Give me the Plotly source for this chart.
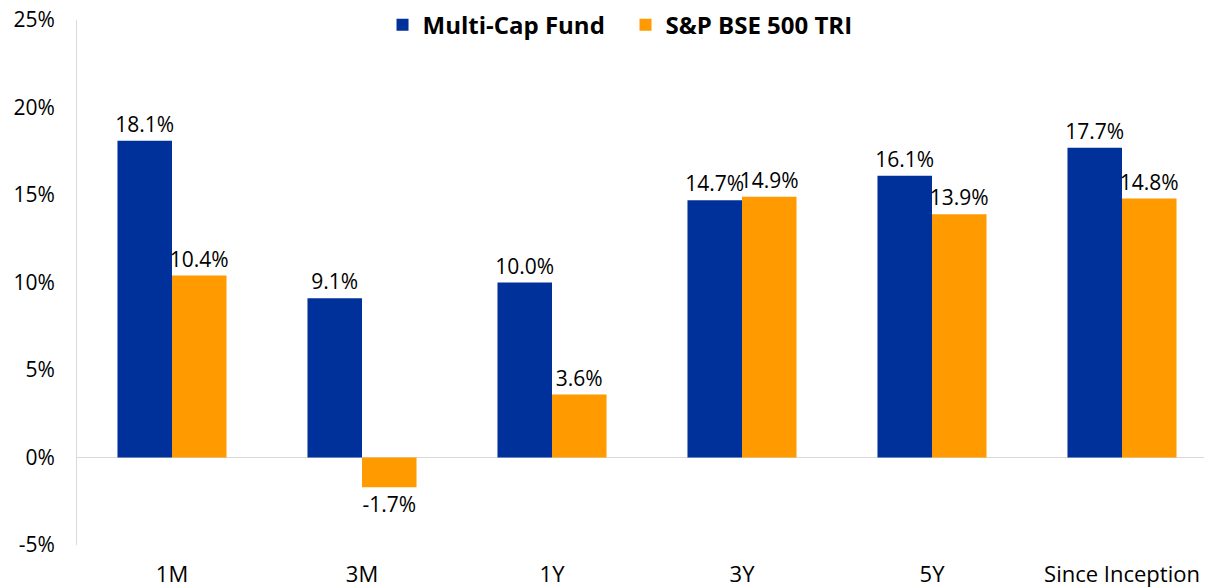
import plotly.graph_objects as go

categories = ["1M", "3M", "1Y", "3Y", "5Y", "Since Inception"]
fund = [18.1, 9.1, 10.0, 14.7, 16.1, 17.7]
index = [10.4, -1.7, 3.6, 14.9, 13.9, 14.8]
tick_vals = [-5, 0, 5, 10, 15, 20, 25]
tick_text = ["-5%", "0%", "5%", "10%", "15%", "20%", "25%"]

FONT = "Open Sans, Inter, sans-serif"

fig = go.Figure()
fig.add_trace(go.Bar(
    x=categories, y=fund, name="Multi-Cap Fund",
    marker=dict(color="#00309A", line=dict(width=0)),
    texttemplate="%{y:.1f}%", textposition="outside", constraintext="none",
    textfont=dict(size=21, color="#000000", family=FONT),
    cliponaxis=False,
))
fig.add_trace(go.Bar(
    x=categories, y=index, name="S&P BSE 500 TRI",
    marker=dict(color="#FF9A00", line=dict(width=0)),
    texttemplate="%{y:.1f}%", textposition="outside", constraintext="none",
    textfont=dict(size=21, color="#000000", family=FONT),
    cliponaxis=False,
))

# page has an 8px body margin; offsets below compensate for it
fig.update_layout(
    width=1212, height=587,
    margin=dict(l=69, r=3, t=12, b=50, autoexpand=False),
    paper_bgcolor="white", plot_bgcolor="white",
    barmode="group", bargap=0.426, bargroupgap=0,
    font=dict(family=FONT, size=21, color="#000000"),
    showlegend=True,
    legend=dict(
        orientation="h", x=0.268, xanchor="left",
        yref="paper", y=0.99, yanchor="middle",
        font=dict(size=24, family=FONT, weight="bold", color="#000000"),
        bgcolor="rgba(0,0,0,0)", traceorder="normal",
        entrywidth=198, entrywidthmode="pixels",
    ),
)
fig.update_yaxes(
    range=[-5, 25], tickvals=tick_vals, ticktext=tick_text,
    showgrid=False, showline=True, linecolor="#d9d9d9", linewidth=1,
    zeroline=True, zerolinecolor="#d9d9d9", zerolinewidth=1,
    ticks="", ticklabelstandoff=17, automargin=False,
    ticklabeloverflow="allow",
    tickfont=dict(size=21, family=FONT, color="#000000"),
)
fig.update_xaxes(
    range=[-0.5, 5.5], showgrid=False, showline=False, ticks="",
    ticklabelstandoff=14, automargin=False,
    tickfont=dict(size=22, family=FONT, color="#000000"),
)

fig.write_html("out.html")
